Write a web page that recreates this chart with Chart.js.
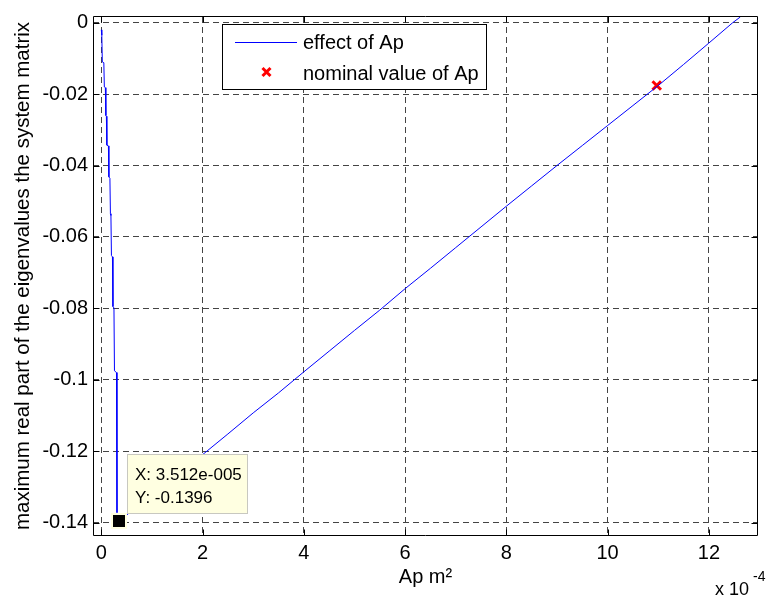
<!DOCTYPE html>
<html>
<head>
<meta charset="utf-8">
<script src="https://cdn.jsdelivr.net/npm/chart.js@4.4.1/dist/chart.umd.min.js"></script>
<style>
  html, body { margin: 0; padding: 0; background: #ffffff; }
  #wrap { width: 767px; height: 600px; }
  canvas { display: block; }
</style>
</head>
<body>
<div id="wrap"><canvas id="c" width="767" height="600"></canvas></div>
<script>
// ---- data (x in units of 1e-4 m^2) ----
const effectX = [0.00, 0.01, 0.02, 0.05, 0.06, 0.08, 0.09, 0.10, 0.11, 0.14, 0.15, 0.17, 0.18, 0.19, 0.20, 0.22, 0.23, 0.25, 0.26, 0.30, 0.31, 0.3512,
                 2.0, 2.5, 3.0, 3.5, 4.0, 4.5, 5.0, 5.5, 6.0, 6.5, 7.0, 7.5, 8.0, 8.5, 9.0, 9.5, 10.0, 10.5, 11.0, 11.5, 12.0, 12.47, 12.62];
const effectY = [-0.0020, -0.0035, -0.0110, -0.0112, -0.0180, -0.0182, -0.0260, -0.0262, -0.0343, -0.0345, -0.0432, -0.0436, -0.0535, -0.0540, -0.0652, -0.0656, -0.0795, -0.0799, -0.0975, -0.0980, -0.1372, -0.1396,
                 -0.1210, -0.1152, -0.1093, -0.1037, -0.0978, -0.0920, -0.0862, -0.0805, -0.0745, -0.0688, -0.0630, -0.0572, -0.0514, -0.0457, -0.0400, -0.0344, -0.0288, -0.0232, -0.0176, -0.0117, -0.0057, 0.0000, 0.0016];
const nominalX = [10.97];
const nominalY = [-0.0176];
const tipX = [0.3512];
const tipY = [-0.1396];
const tipLabels = ['X: 3.512e-005', 'Y: -0.1396'];
const xTicks = [0, 2, 4, 6, 8, 10, 12];
const xTickLabels = ['0', '2', '4', '6', '8', '10', '12'];
const yTicks = [0, -0.02, -0.04, -0.06, -0.08, -0.1, -0.12, -0.14];
const yTickLabels = ['0', '-0.02', '-0.04', '-0.06', '-0.08', '-0.1', '-0.12', '-0.14'];
const seriesNames = ['effect of Ap', 'nominal value of Ap'];
const xTitle = 'Ap m\u00B2';
const yTitle = 'maximum real part of the eigenvalues the system matrix';
const xExponentBase = 'x 10';
const xExponentPow = '-4';

const FONT = '"Liberation Sans", Arial, Helvetica, sans-serif';

const matlabDecor = {
  id: 'matlabDecor',
  afterDatasetsDraw(chart) {
    const ctx = chart.ctx;
    const a = chart.chartArea;
    const xs = chart.scales.x, ys = chart.scales.y;
    ctx.save();
    // axes box
    ctx.strokeStyle = '#000';
    ctx.lineWidth = 1;
    const L = Math.round(a.left) + 0.5, R = Math.round(a.right) - 0.5;
    const T = Math.round(a.top) - 0.5, B = Math.round(a.bottom) + 0.5;
    ctx.beginPath();
    ctx.rect(L, T, R - L, B - T);
    ctx.stroke();
    // inward tick marks on all four sides
    const tl = 6;
    ctx.beginPath();
    xTicks.forEach(v => {
      const px = Math.round(xs.getPixelForValue(v)) + 0.5;
      ctx.moveTo(px, B); ctx.lineTo(px, B - tl);
      ctx.moveTo(px, T); ctx.lineTo(px, T + tl);
    });
    yTicks.forEach(v => {
      const py = Math.round(ys.getPixelForValue(v)) + 0.5;
      ctx.moveTo(L, py); ctx.lineTo(L + tl, py);
      ctx.moveTo(R, py); ctx.lineTo(R - tl, py);
    });
    ctx.stroke();

    // legend
    const lx = 222.5, ly = 24.5, lw = 264, lh = 65;
    ctx.fillStyle = '#fff';
    ctx.fillRect(lx, ly, lw, lh);
    ctx.strokeStyle = '#000';
    ctx.strokeRect(lx, ly, lw, lh);
    ctx.strokeStyle = '#0000ff';
    ctx.lineWidth = 1;
    ctx.beginPath();
    ctx.moveTo(235, 42.5); ctx.lineTo(297, 42.5);
    ctx.stroke();
    ctx.strokeStyle = '#ff0000';
    ctx.lineWidth = 3;
    ctx.beginPath();
    const cx = 266.5, cy = 72, r = 4;
    ctx.moveTo(cx - r, cy - r); ctx.lineTo(cx + r, cy + r);
    ctx.moveTo(cx - r, cy + r); ctx.lineTo(cx + r, cy - r);
    ctx.stroke();
    ctx.fillStyle = '#000';
    ctx.font = '20px ' + FONT;
    ctx.textAlign = 'left';
    ctx.textBaseline = 'alphabetic';
    ctx.fillText(seriesNames[0], 303, 49);
    ctx.fillText(seriesNames[1], 303, 80);

    // data tip
    const mx = Math.round(xs.getPixelForValue(tipX[0]));
    const my = Math.round(ys.getPixelForValue(tipY[0]));
    ctx.fillStyle = '#ffffe1';
    ctx.fillRect(mx - 8, my - 8, 16, 16);
    ctx.fillStyle = '#000';
    ctx.fillRect(mx - 6, my - 6, 12, 12);
    const bx = mx + 8.5, bw = 120, bh = 59, by = my - 8 - bh + 0.5;
    ctx.fillStyle = '#ffffe1';
    ctx.fillRect(bx, by, bw, bh);
    ctx.strokeStyle = '#c8c8c0';
    ctx.lineWidth = 1;
    ctx.strokeRect(bx, by, bw, bh);
    ctx.fillStyle = '#000';
    ctx.font = '17px ' + FONT;
    ctx.fillText(tipLabels[0], bx + 7.5, by + 25);
    ctx.fillText(tipLabels[1], bx + 7.5, by + 48);

    // x exponent
    ctx.font = '18px ' + FONT;
    ctx.fillText(xExponentBase, 715, 595);
    ctx.font = '14px ' + FONT;
    ctx.fillText(xExponentPow, 753, 581);
    ctx.restore();
  }
};

new Chart(document.getElementById('c'), {
  type: 'scatter',
  data: {
    datasets: [
      {
        label: seriesNames[0],
        data: effectX.map((x, i) => ({ x: x, y: effectY[i] })),
        showLine: true,
        borderColor: '#0000ff',
        borderWidth: 1,
        pointRadius: 0,
        tension: 0,
        fill: false
      },
      {
        label: seriesNames[1],
        data: nominalX.map((x, i) => ({ x: x, y: nominalY[i] })),
        showLine: false,
        pointStyle: 'crossRot',
        pointRadius: 6,
        borderColor: '#ff0000',
        backgroundColor: '#ff0000',
        borderWidth: 3
      }
    ]
  },
  options: {
    responsive: false,
    animation: false,
    devicePixelRatio: 1,
    layout: { padding: { top: 6, right: 1, left: 0, bottom: 0 } },
    plugins: { legend: { display: false }, tooltip: { enabled: false } },
    scales: {
      x: {
        type: 'linear',
        min: -0.164,
        max: 12.97,
        afterBuildTicks: s => { s.ticks = xTicks.map(v => ({ value: v })); },
        afterFit: s => { s.height = 65; },
        grid: { color: '#444', lineWidth: 1, drawTicks: false },
        border: { display: false, dash: [6, 4] },
        ticks: {
          padding: 6,
          color: '#000',
          font: { family: FONT, size: 20 },
          maxRotation: 0,
          callback: (v) => { const i = xTicks.indexOf(v); return i >= 0 ? xTickLabels[i] : ''; }
        },
        title: { display: true, text: xTitle, color: '#000', font: { family: FONT, size: 20 }, padding: { top: 0, bottom: 11 } }
      },
      y: {
        type: 'linear',
        min: -0.1435,
        max: 0.0016,
        afterBuildTicks: s => { s.ticks = yTicks.map(v => ({ value: v })); },
        afterFit: s => { s.width = 93; },
        grid: { color: '#444', lineWidth: 1, drawTicks: false },
        border: { display: false, dash: [6, 4] },
        ticks: {
          padding: 5,
          color: '#000',
          font: { family: FONT, size: 20 },
          callback: (v) => { const i = yTicks.findIndex(t => Math.abs(t - v) < 1e-9); return i >= 0 ? yTickLabels[i] : ''; }
        },
        title: { display: true, text: yTitle, color: '#000', font: { family: FONT, size: 20.5 }, padding: { top: 11, bottom: 0 } }
      }
    }
  },
  plugins: [matlabDecor]
});
</script>
</body>
</html>
